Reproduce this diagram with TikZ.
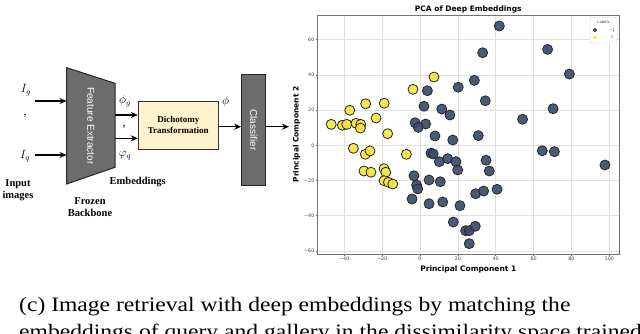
\documentclass[tikz,border=0pt]{standalone}
\usepackage{fontspec}
\setmainfont{Liberation Serif}
\newfontfamily\plotfont{DejaVu Sans}
\newfontfamily\blkfont{Liberation Sans}
\usepackage{graphicx}
\usetikzlibrary{arrows.meta}
\definecolor{blkgray}{RGB}{108,108,108}
\definecolor{dtyellow}{RGB}{255,242,204}
\definecolor{ptdark}{RGB}{58,76,110}
\definecolor{ptyellow}{RGB}{246,228,62}

\begin{document}
\begin{tikzpicture}[x=1pt,y=-1pt,
  arr/.style={-{Stealth[length=7pt,width=6pt]},line width=1.3pt},
  blk/.style={draw=black!85,line width=1pt,fill=blkgray,inner sep=0pt},
  lbl/.style={font=\bfseries\fontsize{10.5}{12}\selectfont,align=center},
  mth/.style={font=\large},
  grid/.style={black!12,line width=0.6pt},
  tick/.style={font=\plotfont\fontsize{4.8}{5}\selectfont,text=black!75,inner sep=1pt},
  axlab/.style={font=\plotfont\bfseries\fontsize{7.5}{9}\selectfont},
  dpt/.style={draw=black!85,fill=ptdark,fill opacity=0.92,line width=0.8pt},
  ypt/.style={draw=black!85,fill=ptyellow,fill opacity=0.92,line width=0.8pt}]
\path[use as bounding box,clip] (0,0) rectangle (640,334);

% block diagram
\draw[blk] (66.7,67.7) -- (115,83.3) -- (115,167.3) -- (66.7,184) -- cycle;
\node[minimum width=48.3pt,minimum height=116.3pt,inner sep=0pt,text=white] (fe) at (90.85,125.85)
   {\rotatebox{-90}{\blkfont\fontsize{10}{11}\selectfont Feature Extractor}};
\node[blk,draw=black!80,fill=dtyellow,minimum width=80pt,minimum height=47.6pt] (dt) at (178.3,125.5)
   {\bfseries\fontsize{9}{11}\selectfont\begin{tabular}{c}Dichotomy\\Transformation\end{tabular}};
\node[blk,minimum width=24pt,minimum height=111.7pt,text=white] (cl) at (253.7,129.9)
   {\rotatebox{-90}{\blkfont\fontsize{10}{11}\selectfont Classifier}};

\node[mth] (ig) at (26,90) {$I_g$};
\node[mth] (sep1) at (25,116) {,};
\node[mth] (iq) at (25,156) {$I_q$};
\coordinate (ing) at (35,101);
\coordinate (inq) at (35,155);
\draw[arr] (ing) -- (ing -| fe.west);
\draw[arr] (inq) -- (inq -| fe.west);

\coordinate (rowg) at (0,115);
\coordinate (rowq) at (0,138.3);
\draw[arr] (fe.east |- rowg) -- (dt.west |- rowg);
\draw[arr] (fe.east |- rowq) -- (dt.west |- rowq);
\node[mth] (phig) at (125,101) {$\phi_g$};
\node[mth] (sep2) at (124,127) {,};
\node[mth] (phiq) at (125,156) {$\varphi_q$};

\coordinate (out) at (289,126.7);
\draw[arr] (dt.east |- out) -- (cl.west |- out);
\draw[arr] (cl.east |- out) -- (out);
\node[mth] (phi) at (225.7,101.7) {$\phi$};

\node[lbl] (inlab) at (18,190) {Input\\images};
\node[lbl] (fblab) at (90,207) {Frozen\\Backbone};
\node[lbl] (emlab) at (137.7,182.3) {Embeddings};

% scatter plot
\node[axlab] (ttl) at (468.3,9.5) {PCA of Deep Embeddings};
\node[axlab] (xlab) at (468.3,269.5) {Principal Component 1};
\node[axlab,rotate=90] (ylab) at (296.5,134.5) {Principal Component 2};
\begin{scope}[shift={(420pt,-145.3pt)},x=1.893pt,y=1.76pt]
\foreach \gx/\gl in {-40/−40,-20/−20,0/0,20/20,40/40,60/60,80/80,100/100} {
   \draw[grid] (\gx,-61.8) -- (\gx,74);
   \draw[black!60,line width=0.5pt] (\gx,-61.8) -- +(0,-2pt);
   \node[tick,below] at (\gx,-63) {\gl};
}
\foreach \gy/\gl in {-60/−60,-40/−40,-20/−20,0/0,20/20,40/40,60/60} {
   \draw[grid] (-54,\gy) -- (105.1,\gy);
   \draw[black!60,line width=0.5pt] (-54,\gy) -- +(-2pt,0);
   \node[tick,left] at (-55.2,\gy) {\gl};
}
\draw[black!55,line width=0.9pt] (-54,-61.8) rectangle (105.1,74);
\foreach \px/\py in {41.9/67.8,33.1/52.6,67.4/54.5,78.9/40.5,28.7/36.9,20.2/33,3.9/31,
   34.5/25.3,70.3/20.8,2.1/22.2,11.5/20.6,15.8/17.2,54.2/14.8,-2.6/12.8,3.0/12.1,
   -0.9/10.2,7.9/5.3,30.8/5.5,17.3/3,5.8/-4.5,7/-4.9,10.2/-9.3,14.6/-7.6,19/-9.3,
   19.9/-14,34.9/-8.5,36.6/-14.6,64.6/-3.1,71/-3.6,97.7/-11.2,-3.2/-17.3,-1.8/-22.6,
   -1.2/-24.8,4.8/-19.7,10.7/-20.7,-4.2/-30.5,4.8/-33.2,12/-32.2,21.1/-34.3,
   29.4/-27.5,33.6/-26,40.7/-25,17.6/-43.6,24.1/-48.5,26/-48.5,29.2/-46,26/-55.9} {
   \filldraw[dpt] (\px,\py) circle[radius=5pt];
}
\foreach \px/\py in {7.4/38.8,-3.7/31.8,-37.1/19.9,-28.7/23.6,-18.9/23.9,-23.2/15.5,
   -46.9/11.9,-41/11.4,-38.7/11.9,-33.8/12.5,-31.3/11.9,-31.5/9.8,-17.1/6.6,
   -35.2/-1.7,-28.9/-5.1,-26.4/-3.2,-7.2/-5.1,-29.6/-14.6,-25.9/-15.3,-19/-13.3,
   -18.1/-15.3,-19/-20.1,-16.7/-21,-14.4/-22} {
   \filldraw[ypt] (\px,\py) circle[radius=5pt];
}
\end{scope}

% legend
\draw[black!20,fill=white,rounded corners=1pt,line width=0.4pt] (590,17.5) rectangle (617,43);
\node[tick,font=\plotfont\fontsize{3.8}{4}\selectfont] (leg) at (603.5,22.5) {Labels};
\filldraw[dpt,line width=0.3pt] (595,30) circle[radius=1.8pt];
\node[tick,font=\plotfont\fontsize{3.8}{4}\selectfont] (legd) at (612,30) {−1};
\filldraw[ypt,draw=ptyellow,line width=0.3pt] (595,37.5) circle[radius=1.8pt];
\node[tick,font=\plotfont\fontsize{3.8}{4}\selectfont] (legy) at (612,37.5) {1};

% caption
\node[anchor=base west,inner sep=0pt,font=\fontsize{20.5}{24}\selectfont] (cap1) at (19,311.7)
   {\scalebox{1.15}[1]{(c) Image retrieval with deep embeddings by matching the}};
\node[anchor=base west,inner sep=0pt,font=\fontsize{20.5}{24}\selectfont] (cap2) at (19,338.5)
   {\scalebox{1.15}[1]{embeddings of query and gallery in the dissimilarity space trained}};
\end{tikzpicture}
\end{document}
